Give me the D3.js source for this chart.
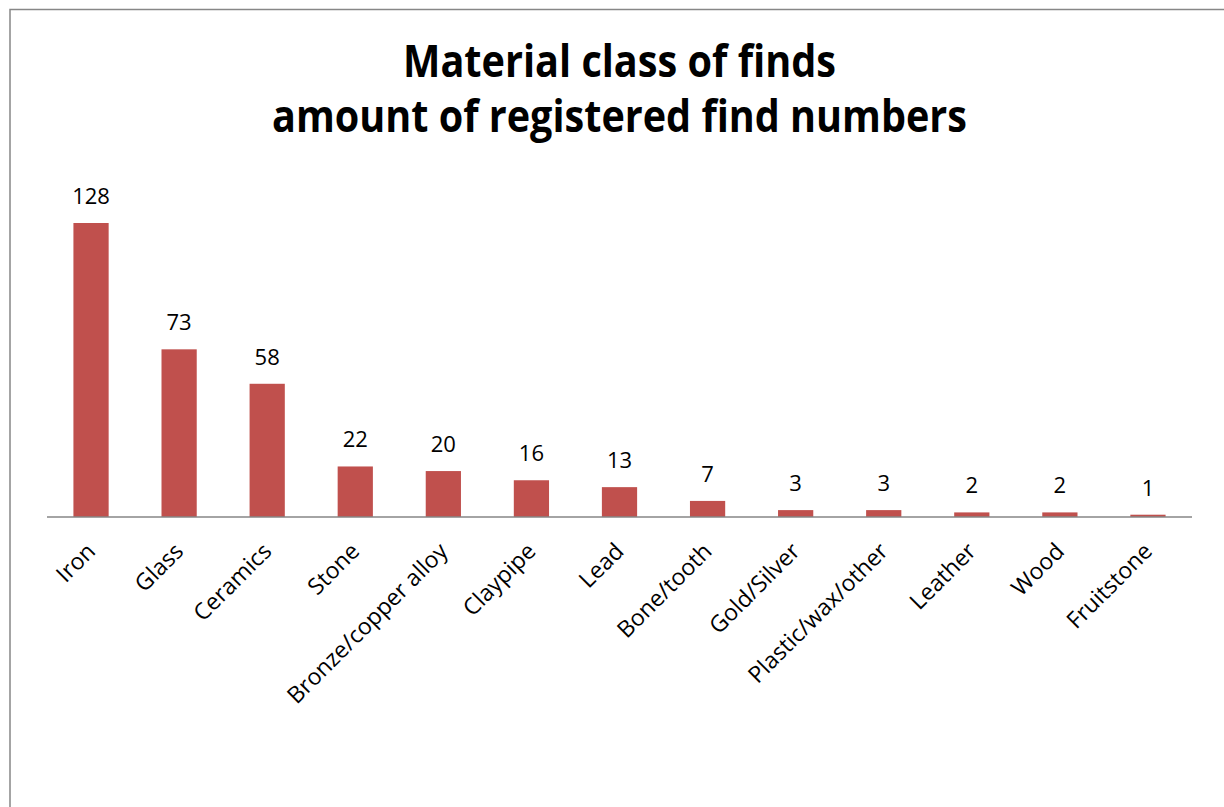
<!DOCTYPE html>
<html>
<head>
<meta charset="utf-8">
<script src="https://cdn.jsdelivr.net/npm/d3@7"></script>
<style>
  html, body { margin: 0; padding: 0; background: #fff; }
  svg { display: block; }
  text { font-family: "Open Sans", "Liberation Sans", sans-serif; fill: #000; }
</style>
</head>
<body>
<svg id="chart" width="1224" height="807"></svg>
<script>
const titleLines = ["Material class of finds", "amount of registered find numbers"];
const categories = ["Iron", "Glass", "Ceramics", "Stone", "Bronze/copper alloy", "Claypipe", "Lead", "Bone/tooth", "Gold/Silver", "Plastic/wax/other", "Leather", "Wood", "Fruitstone"];
const values = [128, 73, 58, 22, 20, 16, 13, 7, 3, 3, 2, 2, 1];

const svg = d3.select("#chart");
const W = 1224, H = 807;
const plot = { left: 47, right: 1192, top: 223, bottom: 517 };

svg.append("rect").attr("width", W).attr("height", H).attr("fill", "#fff");
// chart frame
svg.append("rect")
  .attr("x", 10).attr("y", 9.5)
  .attr("width", 1400).attr("height", 1000)
  .attr("fill", "none").attr("stroke", "#878787").attr("stroke-width", 1.5);

// Title (one text element, two lines)
const titleSizes = [{ y: 77, w: 433 }, { y: 132, w: 695 }];
const title = svg.append("text")
  .attr("text-anchor", "middle")
  .attr("font-size", 45).attr("font-weight", "bold");
titleLines.forEach((t, i) => {
  title.append("tspan")
    .attr("x", 619.5).attr("y", titleSizes[i].y)
    .attr("textLength", titleSizes[i].w).attr("lengthAdjust", "spacingAndGlyphs")
    .text(t);
});

const x = d3.scaleBand().domain(categories).range([plot.left, plot.right]).paddingInner(0.6).paddingOuter(0.3);
const y = d3.scaleLinear().domain([0, 128]).range([plot.bottom, plot.top]);

// bars
svg.append("g").selectAll("rect").data(values).join("rect")
  .attr("x", (d, i) => x(categories[i]))
  .attr("y", d => y(d))
  .attr("width", x.bandwidth())
  .attr("height", d => y(0) - y(d))
  .attr("fill", "#C0504D");

// axis
const xAxis = d3.axisBottom(x).tickSize(0).tickPadding(0);
const gx = svg.append("g").attr("transform", `translate(0,${plot.bottom})`).call(xAxis);
gx.select(".domain").attr("stroke", "#868686").attr("stroke-width", 1.5).attr("d", `M${plot.left},0H${plot.right}`);
gx.selectAll(".tick text")
  .attr("font-family", "'Open Sans', sans-serif")
  .attr("font-size", 23)
  .attr("fill", "#000")
  .attr("text-anchor", "end")
  .attr("dy", "0.35em")
  .attr("y", 0)
  .attr("transform", "translate(0,30) rotate(-45)");

// value labels
svg.append("g").selectAll("text").data(values).join("text")
  .attr("x", (d, i) => x(categories[i]) + x.bandwidth() / 2)
  .attr("y", d => y(d) - 19)
  .attr("text-anchor", "middle")
  .attr("font-size", 22)
  .text(d => d);
</script>
</body>
</html>
